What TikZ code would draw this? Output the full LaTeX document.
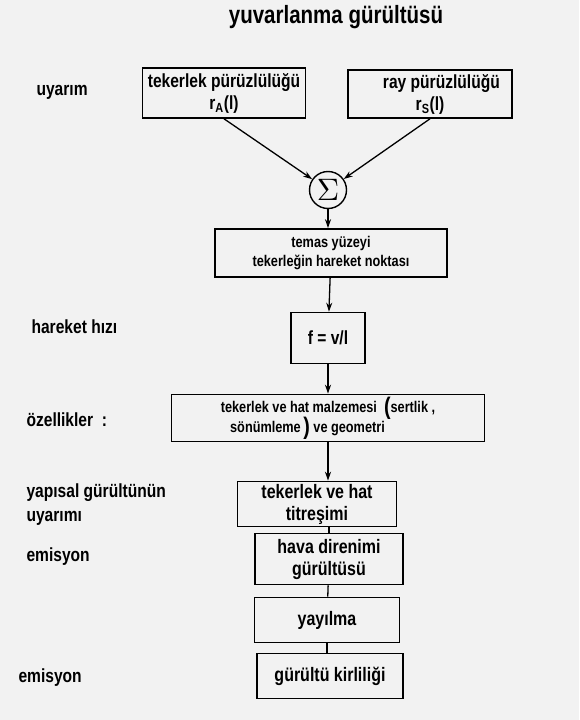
\documentclass[tikz,border=0pt]{standalone}
\usepackage{fontspec}
\setmainfont{Liberation Sans}[FakeStretch=0.82]
\usetikzlibrary{arrows.meta}

\newcommand\bigpar[1]{{\fontsize{24}{0}\selectfont\raisebox{-2pt}{#1}}}

\begin{document}
\begin{tikzpicture}[x=1pt,y=-1pt,
  box/.style={draw,line width=1.6pt,inner sep=1pt,align=center,
    font=\bfseries\fontsize{19}{22}\selectfont},
  small/.style={font=\bfseries\fontsize{15.5}{19}\selectfont},
  big/.style={font=\bfseries\fontsize{19.5}{22}\selectfont},
  lbl/.style={anchor=west,align=left,font=\bfseries\fontsize{19}{24}\selectfont},
  >={Stealth[length=9pt,width=6pt]}]
  \fill[black!5] (0,0) rectangle (579,720);

  \node[font=\bfseries\fontsize{25}{28}\selectfont] (title) at (336,17) {yuvarlanma gürültüsü};

  % left column
  \node[lbl] (uy)  at (33,92)  {uyarım};
  \node[lbl] (hiz) at (28,327) {hareket hızı};
  \node[lbl] (oz)  at (23,420) {özellikler\ \ :};
  \node[lbl] (yap) at (23,505) {yapısal gürültünün\\uyarımı};
  \node[lbl] (em1) at (23,557) {emisyon};
  \node[lbl] (em2) at (15,678) {emisyon};

  % blocks
  \node[box,minimum width=163pt,minimum height=50pt] (rA) at (224,93)
    {tekerlek pürüzlülüğü\\r\textsubscript{A}(l)};
  \node[box,minimum width=164pt,minimum height=48pt] (rS) at (430,94)
    {\hspace*{1.2em}ray pürüzlülüğü\\r\textsubscript{S}(l)};
  \node[draw,circle,line width=1.4pt,minimum size=37pt,inner sep=0pt] (sig) at (328,190)
    {\scalebox{3.1}{$\Sigma$}};
  \node[box,small,minimum width=232pt,minimum height=48pt] (temas) at (331,253)
    {temas yüzeyi\\tekerleğin hareket noktası};
  \node[box,minimum width=74pt,minimum height=51pt] (f) at (328,338) {f = v/l};
  \node[box,small,align=left,minimum width=313pt,minimum height=47pt] (malz) at (328,418)
    {tekerlek ve hat malzemesi\ \ \bigpar{(}sertlik ,\\[-3pt]
     \hspace*{0.6em}sönümleme\,\bigpar{)} ve geometri};
  \node[box,big,minimum width=159pt,minimum height=45pt] (titr) at (317,504)
    {tekerlek ve hat\\titreşimi};
  \node[box,big,minimum width=148pt,minimum height=51pt] (hava) at (329,559)
    {hava direnimi\\gürültüsü};
  \node[box,big,minimum width=145pt,minimum height=45pt] (yay) at (327,620) {yayılma};
  \node[box,big,minimum width=146pt,minimum height=45pt] (kirl) at (330,676) {gürültü kirliliği};

  \path[->,line width=1.3pt]
    (rA.south) edge (sig)
    (rS.south) edge (sig)
    (sig)      edge (sig |- temas.north)
    (temas)    edge (f)
    (f)        edge (f |- malz.north)
    (malz)     edge (malz.south |- titr.north);
  \path[line width=1.3pt]
    (titr.south -| hava) edge (hava)
    (hava) edge (yay)
    (yay)  edge (yay |- kirl.north);
\end{tikzpicture}
\end{document}
